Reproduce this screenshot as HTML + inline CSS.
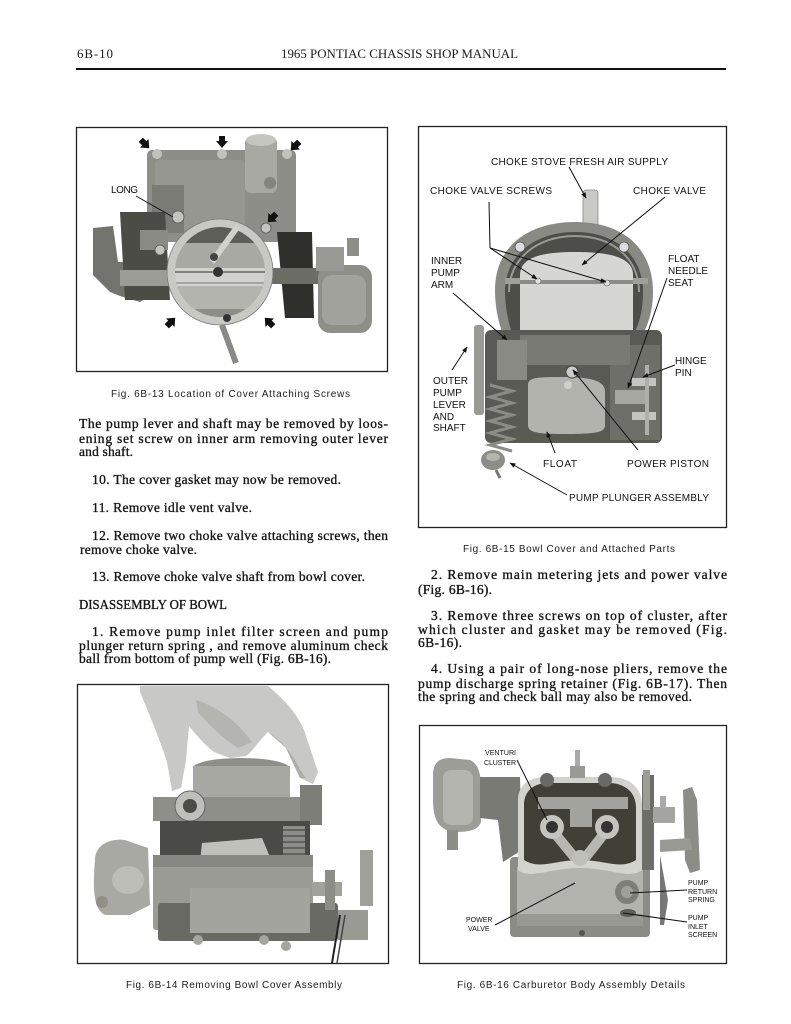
<!DOCTYPE html>
<html><head><meta charset="utf-8"><title>6B-10</title>
<style>
html,body{margin:0;padding:0;background:#fff;}
svg{display:block;}
.b{font-family:"Liberation Serif",serif;font-size:13.5px;fill:#161616;stroke:#161616;stroke-width:0.35;}
.h{font-family:"Liberation Serif",serif;font-size:13px;fill:#1c1c1c;}
.c{font-family:"Liberation Sans",sans-serif;font-size:10px;fill:#1c1c1c;}
.l{font-family:"Liberation Sans",sans-serif;font-size:10px;fill:#111;}
.s{font-family:"Liberation Sans",sans-serif;font-size:7px;fill:#111;}
.ln{stroke:#111;stroke-width:1;fill:none;}
</style></head>
<body>
<svg width="791" height="1024" viewBox="0 0 791 1024" xmlns="http://www.w3.org/2000/svg">
<defs>
<marker id="ah" viewBox="0 0 10 10" refX="9" refY="5" markerWidth="6" markerHeight="6" orient="auto"><path d="M0,1 L10,5 L0,9 z" fill="#111"/></marker>
<path id="ba" d="M-3,-6 L3,-6 L3,-1 L6,-1 L0,6 L-6,-1 L-3,-1 Z" fill="#111"/>
<clipPath id="tc"><circle cx="220" cy="272" r="45"/></clipPath>
</defs>

<!-- Header -->
<text class="h" x="77" y="58" textLength="36" lengthAdjust="spacing">6B-10</text>
<text class="h" x="281" y="58" textLength="237" lengthAdjust="spacingAndGlyphs">1965 PONTIAC CHASSIS SHOP MANUAL</text>
<rect x="76" y="68" width="650" height="2" fill="#111"/>

<!-- ===== Fig 6B-13 ===== -->
<rect x="76.5" y="127.5" width="311" height="244" fill="#fff" stroke="#222" stroke-width="1.3"/>
<g>
  <rect x="147" y="150" width="149" height="92" rx="5" fill="#8e8e88"/>
  <rect x="155" y="160" width="90" height="70" rx="3" fill="#979791"/>
  <rect x="152" y="185" width="32" height="48" fill="#7b7b76"/>
  <rect x="245" y="137" width="32" height="56" rx="6" fill="#a9a9a4"/>
  <ellipse cx="261" cy="140" rx="15" ry="6" fill="#c6c6c1"/>
  <circle cx="270" cy="183" r="6" fill="#85857f"/>
  <circle cx="157" cy="154" r="5" fill="#c2c2bd"/>
  <circle cx="222" cy="154" r="5" fill="#c2c2bd"/>
  <circle cx="287" cy="154" r="5" fill="#c2c2bd"/>
  <path d="M277,232 L312,232 L314,318 L285,318 Z" fill="#2f2f2b"/>
  <path d="M93,228 L113,226 L118,262 L150,262 L160,290 L140,302 L120,296 L110,292 L93,275 Z" fill="#74746f"/>
  <path d="M120,212 L165,212 L170,300 L125,300 Z" fill="#4c4c47"/>
  <rect x="140" y="230" width="28" height="20" fill="#8a8a85"/>
  <rect x="120" y="270" width="50" height="16" fill="#9c9c97"/>
  <rect x="265" y="268" width="60" height="16" fill="#6d6d68"/>
  <rect x="318" y="265" width="54" height="68" rx="12" fill="#8f8f8a"/>
  <rect x="322" y="275" width="44" height="50" rx="10" fill="#a2a29d"/>
  <rect x="316" y="247" width="28" height="24" fill="#9a9a95"/>
  <rect x="347" y="238" width="12" height="18" fill="#8e8e89"/>
  <circle cx="220" cy="272" r="53" fill="#c9c9c4" stroke="#777" stroke-width="0.8"/>
  <circle cx="220" cy="272" r="45" fill="#a5a5a0"/>
  <g clip-path="url(#tc)">
    <rect x="170" y="225" width="100" height="18" fill="#5e5e59"/>
    <rect x="170" y="243" width="100" height="25" fill="#a9a9a4"/>
    <rect x="170" y="268" width="100" height="18" fill="#d3d3ce"/>
    <line x1="170" y1="272" x2="270" y2="272" stroke="#666" stroke-width="1.5"/>
    <line x1="170" y1="283" x2="270" y2="283" stroke="#777" stroke-width="1"/>
    <rect x="170" y="286" width="100" height="32" fill="#b4b4af"/>
    <rect x="170" y="309" width="100" height="10" fill="#8e8e89"/>
  </g>
  <line x1="212" y1="262" x2="238" y2="226" stroke="#d2d2cd" stroke-width="6"/>
  <circle cx="218" cy="272" r="5" fill="#333"/>
  <circle cx="214" cy="257" r="4" fill="#444"/>
  <circle cx="227" cy="318" r="4" fill="#333"/>
  <circle cx="178" cy="217" r="6" fill="#c4c4bf" stroke="#555" stroke-width="0.8"/>
  <circle cx="266" cy="228" r="5" fill="#c4c4bf" stroke="#555" stroke-width="0.8"/>
  <circle cx="160" cy="250" r="5" fill="#c4c4bf" stroke="#555" stroke-width="0.8"/>
  <line x1="222" y1="325" x2="236" y2="363" stroke="#8b8b86" stroke-width="6"/>
  <use href="#ba" transform="translate(145,144) rotate(-45)"/>
  <use href="#ba" transform="translate(222,142)"/>
  <use href="#ba" transform="translate(295,146) rotate(45)"/>
  <use href="#ba" transform="translate(272,218) rotate(45)"/>
  <use href="#ba" transform="translate(171,322) rotate(-135)"/>
  <use href="#ba" transform="translate(269,322) rotate(135)"/>
  <text class="l" x="111" y="193" font-size="9.5" textLength="27" lengthAdjust="spacing">LONG</text>
  <line class="ln" x1="136" y1="196" x2="173" y2="217"/>
</g>
<text class="c" x="111" y="397" textLength="239" lengthAdjust="spacing">Fig. 6B-13  Location of Cover Attaching Screws</text>

<!-- Left column text -->
<text class="b" x="79" y="428" textLength="309" lengthAdjust="spacing">The pump lever and shaft may be removed by loos-</text>
<text class="b" x="79" y="443" textLength="309" lengthAdjust="spacing">ening set screw on inner arm removing outer lever</text>
<text class="b" x="79" y="456" textLength="54" lengthAdjust="spacing">and shaft.</text>
<text class="b" x="92" y="484" textLength="249" lengthAdjust="spacing">10. The cover gasket may now be removed.</text>
<text class="b" x="92" y="512" textLength="160" lengthAdjust="spacing">11. Remove idle vent valve.</text>
<text class="b" x="92" y="540" textLength="296" lengthAdjust="spacing">12. Remove two choke valve attaching screws, then</text>
<text class="b" x="80" y="554" textLength="117" lengthAdjust="spacing">remove choke valve.</text>
<text class="b" x="92" y="581" textLength="273" lengthAdjust="spacing">13. Remove choke valve shaft from bowl cover.</text>
<text class="b" x="79" y="609" textLength="148" lengthAdjust="spacingAndGlyphs">DISASSEMBLY OF BOWL</text>
<text class="b" x="92" y="636" textLength="296" lengthAdjust="spacing">1. Remove pump inlet filter screen and pump</text>
<text class="b" x="79" y="650" textLength="309" lengthAdjust="spacing">plunger return spring , and remove aluminum check</text>
<text class="b" x="79" y="663" textLength="252" lengthAdjust="spacing">ball from bottom of pump well (Fig. 6B-16).</text>

<!-- ===== Fig 6B-15 ===== -->
<rect x="418.5" y="126.5" width="308" height="401" fill="#fff" stroke="#222" stroke-width="1.3"/>
<g>
  <rect x="583" y="190" width="15" height="42" rx="3" fill="#c9c9c5" stroke="#888" stroke-width="0.8"/>
  <path d="M495,290 C495,245 530,222 575,222 C625,222 653,250 653,292 C653,315 645,332 640,338 L505,338 C498,325 495,305 495,290 Z" fill="#8a8a84"/>
  <path d="M505,292 C505,255 535,232 575,232 C615,232 643,255 643,292 C643,318 635,335 628,340 L515,340 C510,330 505,310 505,292 Z" fill="#4e4e49"/>
  <path d="M509,292 C509,258 538,236 575,236 C612,236 639,258 639,292" fill="none" stroke="#9a9a95" stroke-width="2"/>
  <path d="M520,275 C520,258 540,252 575,252 C612,252 633,258 633,275 L633,333 L520,333 Z" fill="#d6d6d2"/>
  <rect x="520" y="280" width="113" height="4" fill="#8c8c87"/>
  <rect x="505" y="278" width="15" height="6" fill="#a0a09b"/>
  <rect x="633" y="278" width="15" height="6" fill="#a0a09b"/>
  <circle cx="538" cy="281" r="3" fill="#e2e2de" stroke="#666" stroke-width="0.6"/>
  <circle cx="607" cy="283" r="3" fill="#e2e2de" stroke="#666" stroke-width="0.6"/>
  <circle cx="520" cy="247" r="5" fill="#ddd" stroke="#555" stroke-width="0.8"/>
  <circle cx="624" cy="247" r="5" fill="#ddd" stroke="#555" stroke-width="0.8"/>
  <rect x="485" y="330" width="177" height="113" rx="6" fill="#5a5a55"/>
  <rect x="610" y="345" width="50" height="95" fill="#6f6f6a"/>
  <rect x="520" y="335" width="110" height="30" fill="#7a7a75"/>
  <rect x="497" y="340" width="30" height="40" fill="#8a8a85"/>
  <rect x="474" y="325" width="10" height="90" rx="3" fill="#9a9a95"/>
  <path d="M528,385 C528,378 535,377 560,377 C590,377 605,380 605,392 L605,425 C605,432 598,434 565,434 C535,434 528,432 528,425 Z" fill="#b3b3ae"/>
  <circle cx="572" cy="372" r="6" fill="#ccc" stroke="#444" stroke-width="1"/>
  <circle cx="568" cy="385" r="4" fill="#d0d0cc"/>
  <rect x="632" y="378" width="24" height="8" fill="#c5c5c0"/>
  <rect x="632" y="412" width="24" height="8" fill="#c5c5c0"/>
  <rect x="615" y="390" width="30" height="14" fill="#a7a7a2"/>
  <rect x="645" y="365" width="4" height="70" fill="#b0b0ab"/>
  <path d="M490,385 l22,6 l-22,6 l22,6 l-22,6 l22,6 l-22,6 l22,6 l-22,6 l22,6 l-22,6 l22,6" stroke="#8c8c87" stroke-width="3" fill="none"/>
  <ellipse cx="493" cy="460" rx="12" ry="10" fill="#8d8d88"/>
  <ellipse cx="493" cy="457" rx="7" ry="4" fill="#b5b5b0"/>
  <line x1="496" y1="470" x2="500" y2="478" stroke="#777" stroke-width="3"/>
  <text class="l" x="491" y="165" textLength="177" lengthAdjust="spacing">CHOKE STOVE FRESH AIR SUPPLY</text>
  <text class="l" x="430" y="194" textLength="122" lengthAdjust="spacing">CHOKE VALVE SCREWS</text>
  <text class="l" x="633" y="194" textLength="73" lengthAdjust="spacing">CHOKE VALVE</text>
  <text class="l" x="431" y="264">INNER</text>
  <text class="l" x="431" y="276">PUMP</text>
  <text class="l" x="431" y="288">ARM</text>
  <text class="l" x="668" y="262">FLOAT</text>
  <text class="l" x="668" y="274">NEEDLE</text>
  <text class="l" x="668" y="286">SEAT</text>
  <text class="l" x="675" y="364">HINGE</text>
  <text class="l" x="675" y="376">PIN</text>
  <text class="l" x="433" y="384">OUTER</text>
  <text class="l" x="433" y="396">PUMP</text>
  <text class="l" x="433" y="408">LEVER</text>
  <text class="l" x="433" y="420">AND</text>
  <text class="l" x="433" y="431">SHAFT</text>
  <text class="l" x="543" y="467" textLength="34" lengthAdjust="spacing">FLOAT</text>
  <text class="l" x="627" y="467" textLength="82" lengthAdjust="spacing">POWER PISTON</text>
  <text class="l" x="569" y="501" textLength="140" lengthAdjust="spacing">PUMP PLUNGER ASSEMBLY</text>
  <line class="ln" x1="569" y1="167" x2="586" y2="198" marker-end="url(#ah)"/>
  <polyline class="ln" points="489,202 490,248"/>
  <line class="ln" x1="490" y1="248" x2="537" y2="279" marker-end="url(#ah)"/>
  <line class="ln" x1="490" y1="248" x2="606" y2="282" marker-end="url(#ah)"/>
  <line class="ln" x1="665" y1="197" x2="582" y2="265" marker-end="url(#ah)"/>
  <line class="ln" x1="453" y1="293" x2="507" y2="340" marker-end="url(#ah)"/>
  <line class="ln" x1="667" y1="278" x2="628" y2="388" marker-end="url(#ah)"/>
  <line class="ln" x1="675" y1="365" x2="643" y2="377" marker-end="url(#ah)"/>
  <line class="ln" x1="452" y1="370" x2="467" y2="347" marker-end="url(#ah)"/>
  <line class="ln" x1="555" y1="453" x2="547" y2="432" marker-end="url(#ah)"/>
  <line class="ln" x1="638" y1="450" x2="573" y2="370" marker-end="url(#ah)"/>
  <line class="ln" x1="567" y1="495" x2="510" y2="463" marker-end="url(#ah)"/>
</g>
<text class="c" x="463" y="552" textLength="212" lengthAdjust="spacing">Fig. 6B-15  Bowl Cover and Attached Parts</text>

<!-- Right column text -->
<text class="b" x="431" y="579" textLength="296" lengthAdjust="spacing">2. Remove  main metering jets  and power valve</text>
<text class="b" x="418" y="594" textLength="74" lengthAdjust="spacing">(Fig. 6B-16).</text>
<text class="b" x="431" y="620" textLength="296" lengthAdjust="spacing">3. Remove three screws on top of cluster, after</text>
<text class="b" x="418" y="634" textLength="309" lengthAdjust="spacing">which cluster and gasket may be removed (Fig.</text>
<text class="b" x="418" y="647" textLength="44" lengthAdjust="spacing">6B-16).</text>
<text class="b" x="431" y="673" textLength="296" lengthAdjust="spacing">4. Using a pair of long-nose pliers, remove the</text>
<text class="b" x="418" y="688" textLength="309" lengthAdjust="spacing">pump discharge spring retainer (Fig. 6B-17). Then</text>
<text class="b" x="418" y="701" textLength="274" lengthAdjust="spacing">the spring and check ball may also be removed.</text>

<!-- ===== Fig 6B-14 ===== -->
<rect x="77.5" y="684.5" width="311" height="279" fill="#fff" stroke="#222" stroke-width="1.3"/>
<g>
  <path d="M140,686 L268,686 C285,700 300,716 306,736 L318,772 L313,784 L300,778 L286,748 L268,732 C258,742 252,752 246,756 L230,758 L214,752 C205,745 196,735 189,726 L186,760 L181,788 L172,791 L167,762 C160,740 150,716 140,692 Z" fill="#c8c8c6"/>
  <path d="M196,700 C215,706 232,718 244,732 L252,742 L238,748 C222,738 208,724 198,712 Z" fill="#b4b4b1"/>
  <path d="M268,732 C280,740 292,752 300,770 L306,778 L300,778 L286,748 Z" fill="#adadaa"/>
  <ellipse cx="241" cy="768" rx="48" ry="10" fill="#8f8f8a"/>
  <rect x="193" y="766" width="97" height="32" fill="#a8a8a3"/>
  <rect x="153" y="797" width="167" height="24" fill="#8f8f8a"/>
  <rect x="300" y="785" width="22" height="40" fill="#7e7e79"/>
  <circle cx="190" cy="806" r="15" fill="#c0c0bb" stroke="#666" stroke-width="1"/>
  <circle cx="190" cy="806" r="7" fill="#4d4d48"/>
  <rect x="160" y="821" width="150" height="36" fill="#4a4a46"/>
  <rect x="283" y="826" width="22" height="36" fill="#8d8d88"/>
  <path d="M283,830 h22 M283,836 h22 M283,842 h22 M283,848 h22 M283,854 h22" stroke="#555" stroke-width="1.5"/>
  <path d="M202,843 L262,838 L272,862 L200,862 Z" fill="#c0c0bb"/>
  <rect x="153" y="855" width="160" height="75" rx="3" fill="#9b9b96"/>
  <rect x="153" y="855" width="160" height="12" fill="#888883"/>
  <rect x="158" y="903" width="180" height="38" rx="3" fill="#6a6a65"/>
  <rect x="190" y="888" width="120" height="45" fill="#a4a49f"/>
  <circle cx="198" cy="940" r="5" fill="#a5a5a0"/>
  <circle cx="264" cy="940" r="5" fill="#a5a5a0"/>
  <circle cx="286" cy="946" r="5" fill="#a5a5a0"/>
  <path d="M95,860 C95,845 110,838 125,840 L148,848 L150,905 L130,915 L105,915 C95,910 92,895 95,860 Z" fill="#a9a9a4"/>
  <ellipse cx="128" cy="880" rx="16" ry="14" fill="#bdbdb8"/>
  <circle cx="102" cy="902" r="6" fill="#909089"/>
  <rect x="312" y="882" width="30" height="14" fill="#a2a29d"/>
  <rect x="325" y="870" width="10" height="40" fill="#8d8d88"/>
  <rect x="360" y="850" width="13" height="56" fill="#a0a09b"/>
  <rect x="338" y="910" width="30" height="30" fill="#9a9a95"/>
  <line x1="340" y1="915" x2="332" y2="963" stroke="#222" stroke-width="2"/>
  <line x1="345" y1="915" x2="337" y2="963" stroke="#444" stroke-width="1.5"/>
</g>
<text class="c" x="126" y="988" textLength="216" lengthAdjust="spacing">Fig. 6B-14  Removing Bowl Cover Assembly</text>

<!-- ===== Fig 6B-16 ===== -->
<rect x="419.5" y="725.5" width="307" height="238" fill="#fff" stroke="#222" stroke-width="1.3"/>
<g>
  <path d="M433,775 C433,762 440,758 450,758 L470,760 C478,764 481,772 481,790 L481,822 C478,830 470,832 455,832 C440,830 433,822 433,800 Z" fill="#9d9d98"/>
  <rect x="443" y="770" width="30" height="55" rx="8" fill="#b5b5b0"/>
  <rect x="447" y="830" width="11" height="20" fill="#8e8e89"/>
  <path d="M480,777 L520,777 L522,850 L503,862 L498,820 L480,818 Z" fill="#7a7a75"/>
  <rect x="510" y="857" width="140" height="80" rx="4" fill="#8c8c87"/>
  <rect x="517" y="867" width="126" height="58" fill="#b4b4af"/>
  <rect x="517" y="914" width="126" height="12" fill="#999994"/>
  <path d="M518,800 C518,785 530,777 545,777 L610,777 C630,777 642,788 642,805 L642,870 C630,880 610,868 580,868 C550,868 530,880 518,870 Z" fill="#d3d3ce"/>
  <path d="M524,805 C524,790 535,783 548,783 L608,783 C625,783 636,792 636,808 L636,860 C620,870 605,860 580,860 C555,860 540,870 524,860 Z" fill="#404039"/>
  <rect x="538" y="797" width="90" height="12" fill="#a3a39e"/>
  <rect x="570" y="797" width="22" height="30" fill="#a3a39e"/>
  <line x1="552" y1="830" x2="575" y2="858" stroke="#b8b8b3" stroke-width="10"/>
  <line x1="607" y1="830" x2="585" y2="858" stroke="#b8b8b3" stroke-width="10"/>
  <circle cx="552" cy="827" r="12" fill="#c4c4bf"/>
  <circle cx="552" cy="827" r="6" fill="#333"/>
  <circle cx="607" cy="827" r="12" fill="#c4c4bf"/>
  <circle cx="607" cy="827" r="6" fill="#333"/>
  <circle cx="580" cy="858" r="8" fill="#c0c0bb"/>
  <rect x="575" y="750" width="5" height="18" fill="#aaa"/>
  <rect x="570" y="766" width="15" height="12" fill="#9a9a95"/>
  <circle cx="547" cy="780" r="7" fill="#6a6a65"/>
  <circle cx="605" cy="780" r="7" fill="#6a6a65"/>
  <rect x="642" y="775" width="12" height="95" fill="#6e6e69"/>
  <rect x="643" y="770" width="7" height="40" fill="#9d9d98"/>
  <rect x="653" y="807" width="22" height="16" fill="#a5a5a0"/>
  <rect x="660" y="796" width="6" height="12" fill="#aaa"/>
  <path d="M683,790 L692,787 L697,800 L700,870 L690,873 L685,860 Z" fill="#8d8d88"/>
  <path d="M660,840 L690,838 L692,850 L660,852 Z" fill="#9a9a95"/>
  <path d="M660,855 L668,900 L664,925 L660,925 Z" fill="#777"/>
  <circle cx="627" cy="892" r="12" fill="#7f7f7a"/>
  <circle cx="627" cy="892" r="6" fill="#a0a09b"/>
  <ellipse cx="628" cy="913" rx="8" ry="4" fill="#5f5f5a"/>
  <circle cx="582" cy="933" r="3" fill="#555"/>
  <text class="s" x="485" y="755" textLength="31" lengthAdjust="spacing">VENTURI</text>
  <text class="s" x="484" y="765" textLength="32" lengthAdjust="spacing">CLUSTER</text>
  <text class="s" x="466" y="922">POWER</text>
  <text class="s" x="468" y="931">VALVE</text>
  <text class="s" x="688" y="885">PUMP</text>
  <text class="s" x="688" y="894">RETURN</text>
  <text class="s" x="688" y="902">SPRING</text>
  <text class="s" x="688" y="920">PUMP</text>
  <text class="s" x="688" y="929">INLET</text>
  <text class="s" x="688" y="937">SCREEN</text>
  <line class="ln" x1="517" y1="760" x2="547" y2="820" stroke-width="0.8"/>
  <line class="ln" x1="495" y1="925" x2="575" y2="883" stroke-width="0.8"/>
  <line class="ln" x1="687" y1="890" x2="630" y2="893" stroke-width="0.8"/>
  <line class="ln" x1="687" y1="922" x2="623" y2="913" stroke-width="0.8"/>
</g>
<text class="c" x="457" y="988" textLength="228" lengthAdjust="spacing">Fig. 6B-16  Carburetor Body Assembly Details</text>
</svg>
</body></html>
